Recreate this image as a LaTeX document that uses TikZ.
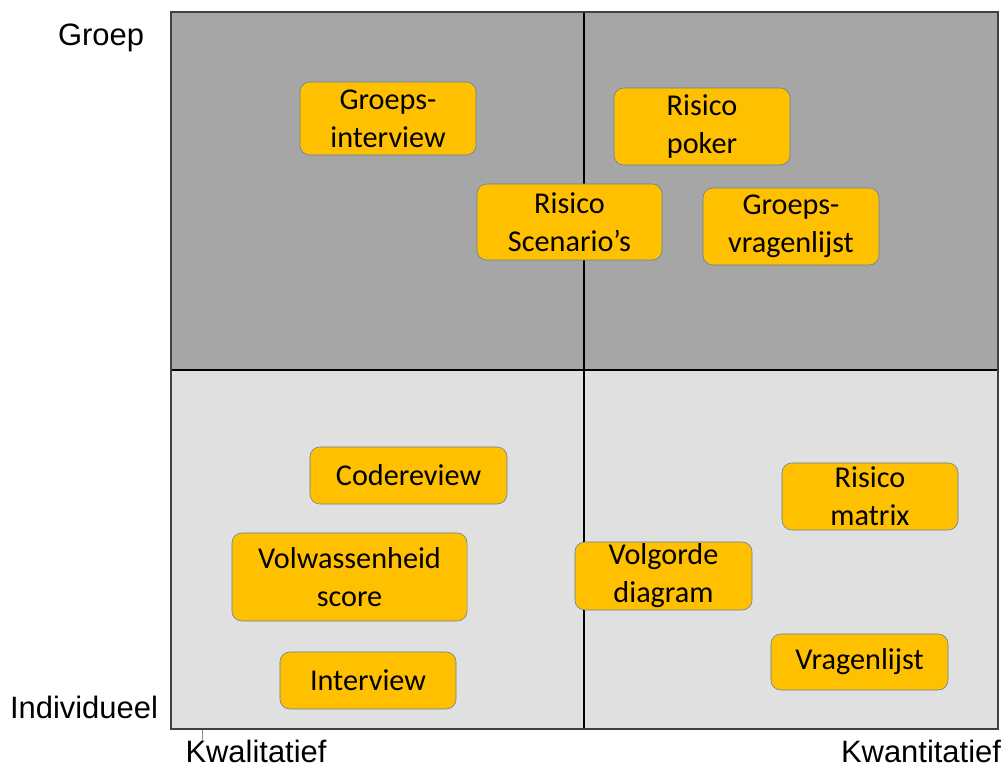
\documentclass[tikz,border=0pt]{standalone}
\usepackage{fontspec}
\setmainfont{Carlito}
\newfontfamily\assenfont{Liberation Sans}
\definecolor{oranje}{HTML}{FFC000}
\definecolor{boxrand}{HTML}{5B7FA6}
\definecolor{groepvlak}{HTML}{A6A6A6}
\definecolor{indivvlak}{HTML}{E0E0E0}
\definecolor{kader}{HTML}{404040}
\definecolor{streep}{HTML}{5B9BD5}
\tikzset{
  methode/.style={draw=boxrand, fill=oranje, rounded corners=7pt, align=center,
    font=\fontsize{21.5}{27}\selectfont, inner sep=0pt},
  aslabel/.style={font=\assenfont\fontsize{22}{26}\selectfont, inner sep=0pt}
}
\begin{document}
\begin{tikzpicture}[x=0.025cm,y=-0.025cm]
            \useasboundingbox (0,0) rectangle (1008,768);
            % kwadranten
            \fill[groepvlak](171,12) rectangle (998,370);
            \fill[indivvlak](171,370) rectangle (998,729);
            \draw[black,line width=1.1pt](584,12) -- (584,729);
            \draw[black,line width=1.1pt](171,370) -- (998,370);
            \draw[kader,line width=1.5pt](171,12) rectangle (998,729);
            \draw[streep,line width=0.6pt](202,730) -- (202,741);
            % assen
            \node[aslabel] (groep) at (101,38){Groep};
            \node[aslabel] (individueel) at (84,707){Individueel};
            \node[aslabel] (kwalitatief) at (256,751){Kwalitatief};
            \node[aslabel] (kwantitatief) at (921,751){Kwantitatief};
            % methoden groep
            \node[methode,minimum width=4.4cm,minimum height=1.825cm] (groepsinterview) at (388,118.5){Groeps-\\interview};
            \node[methode,minimum width=4.4cm,minimum height=1.925cm] (risicopoker) at (702,126.5){Risico\\poker};
            \node[methode,minimum width=4.625cm,minimum height=1.9cm] (scenarios) at (569.5,222){Risico\\Scenario’s};
            \node[methode,minimum width=4.4cm,minimum height=1.925cm] (groepsvragenlijst) at (791,226.5){Groeps-\\vragenlijst};
            % methoden individueel
            \node[methode,minimum width=4.925cm,minimum height=1.425cm] (codereview) at (408.5,475.5){Codereview};
            \node[methode,minimum width=5.875cm,minimum height=2.2cm] (volwassenheid) at (349.5,577){Volwassenheid\\score};
            \node[methode,minimum width=4.4cm,minimum height=1.425cm] (interview) at (368,680.5){Interview};
            \node[methode,minimum width=4.425cm,minimum height=1.7cm] (volgorde) at (663.5,576){Volgorde\\diagram};
            \node[methode,minimum width=4.4cm,minimum height=1.675cm] (risicomatrix) at (870,496.5){Risico\\matrix};
            \node[methode,minimum width=4.425cm,minimum height=1.4cm] (vragenlijst) at (859.5,662){Vragenlijst};
        \end{tikzpicture}
\end{document}
